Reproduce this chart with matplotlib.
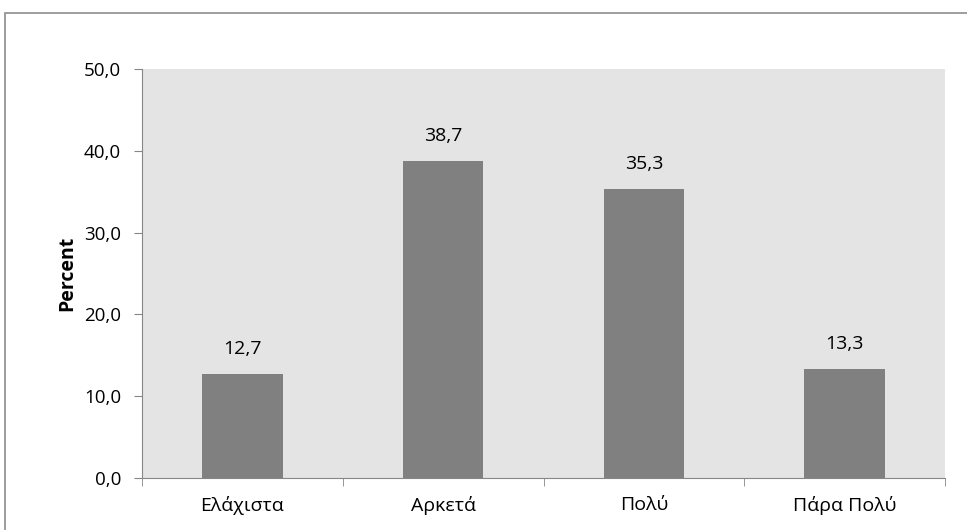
import matplotlib
matplotlib.use("Agg")
import matplotlib.pyplot as plt
import matplotlib.patheffects as pe
from matplotlib.patches import Rectangle
from matplotlib.ticker import FuncFormatter, FixedLocator

plt.rcParams["font.family"] = ["Open Sans", "DejaVu Sans"]

categories = ["Ελάχιστα", "Αρκετά", "Πολύ", "Πάρα Πολύ"]
percent = [12.7, 38.7, 35.3, 13.3]
yticks = [0, 10, 20, 30, 40, 50]

W, H = 967, 530
fig = plt.figure(figsize=(W / 100, H / 100), dpi=100)

# outer chart frame, cut off at right and bottom like the reference
fig.patches.append(Rectangle((5 / W, -0.1), 1.2, 1.1 - 13 / H,
                             transform=fig.transFigure, fill=False,
                             edgecolor="#8c8c8c", linewidth=1.2))

left, right, top, bottom = 142, 945, 69, 478
ax = fig.add_axes([left / W, 1 - bottom / H, (right - left) / W, (bottom - top) / H])
ax.set_facecolor("#e4e4e4")

x = range(len(categories))
bars = ax.bar(x, percent, width=0.4, color="#808080", zorder=3)
for b in bars:
    b.set_path_effects([pe.SimplePatchShadow(offset=(0, -1), shadow_rgbFace="#555555", alpha=0.35),
                        pe.Normal()])

for xi, v in zip(x, percent):
    ax.text(xi, v + 2.0, f"{v:.1f}".replace(".", ","), ha="center", va="bottom",
            fontsize=14, color="black")

ax.set_xlim(-0.5, len(categories) - 0.5)
ax.set_ylim(0, 50)
ax.set_yticks(yticks)
ax.yaxis.set_major_formatter(FuncFormatter(lambda v, p: f"{v:.1f}".replace(".", ",")))
ax.set_xticks(list(x))
ax.set_xticklabels(categories)
ax.xaxis.set_minor_locator(FixedLocator([i - 0.5 for i in range(len(categories) + 1)]))
ax.tick_params(axis="x", which="major", length=0, pad=13, labelsize=14)
ax.tick_params(axis="x", which="minor", length=6, color="#868686")
ax.tick_params(axis="y", length=6, color="#868686", labelsize=13.5, pad=9)

for side in ["top", "right"]:
    ax.spines[side].set_visible(False)
for side in ["left", "bottom"]:
    ax.spines[side].set_color("#868686")

ax.set_ylabel("Percent", fontsize=14, fontweight="bold", labelpad=5)

fig.savefig("out.png", dpi=100)
